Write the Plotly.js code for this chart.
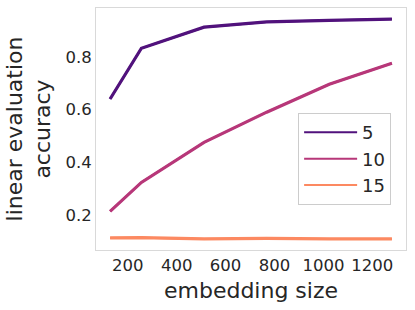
<!DOCTYPE html>
<html>
<head>
<meta charset="utf-8">
<script src="https://cdn.plot.ly/plotly-3.0.1.min.js"></script>
<style>html,body{margin:0;padding:0;background:#fff;}#chart{width:415px;height:310px;}</style>
</head>
<body>
<div id="chart"></div>
<script>
const embeddingSize = [128, 256, 512, 768, 1024, 1280];
const seriesNames = ['5', '10', '15'];
const acc5 = [0.640, 0.833, 0.913, 0.933, 0.939, 0.944];
const acc10 = [0.213, 0.323, 0.475, 0.590, 0.696, 0.776];
const acc15 = [0.112, 0.113, 0.108, 0.110, 0.108, 0.108];
const colors = ['#51127c', '#b73779', '#fc8961'];
const xTicks = [200, 400, 600, 800, 1000, 1200];
const yTicks = [0.2, 0.4, 0.6, 0.8];

const seriesValues = [acc5, acc10, acc15];
// thin copies carry the legend entries (legend lines are thinner in the reference)
const legendTraces = seriesValues.map((v, i) => ({
  x: embeddingSize, y: v, type: 'scatter', mode: 'lines', name: seriesNames[i],
  line: {color: colors[i], width: 2}
}));
const mainTraces = seriesValues.map((v, i) => ({
  x: embeddingSize, y: v, type: 'scatter', mode: 'lines', name: seriesNames[i],
  showlegend: false, line: {color: colors[i], width: 3.2}
}));

const tf = 'DejaVu Sans, sans-serif';
const layout = {
  width: 415, height: 310,
  margin: {l: 96, r: 9, t: 8, b: 60},
  paper_bgcolor: '#fff', plot_bgcolor: '#fff',
  font: {family: tf, color: '#262626'},
  showlegend: true,
  legend: {
    x: 0.652, y: 0.566, xanchor: 'left', yanchor: 'top',
    bgcolor: '#fff', bordercolor: '#cccccc', borderwidth: 1,
    font: {family: tf, size: 18, color: '#262626'},
    itemwidth: 53, tracegroupgap: 0
  },
  xaxis: {
    range: [70.4, 1337.6], tickvals: xTicks, ticktext: xTicks.map(String),
    showgrid: false, zeroline: false, ticks: '',
    showline: true, mirror: true, linecolor: '#d9d9d9', linewidth: 1,
    tickfont: {family: tf, size: 16.5, color: '#262626'},
    title: {text: 'embedding size', font: {family: tf, size: 22, color: '#262626'}, standoff: 8}
  },
  yaxis: {
    range: [0.066, 0.986], tickvals: yTicks, ticktext: yTicks.map(v => v.toFixed(1)),
    showgrid: false, zeroline: false, ticks: '',
    showline: true, mirror: true, linecolor: '#d9d9d9', linewidth: 1,
    tickfont: {family: tf, size: 16.5, color: '#262626'},
    title: {text: 'linear evaluation<br>accuracy', font: {family: tf, size: 22, color: '#262626'}, standoff: 8}
  }
};
Plotly.newPlot('chart', legendTraces.concat(mainTraces), layout, {displayModeBar: false, staticPlot: true});
</script>
</body>
</html>
